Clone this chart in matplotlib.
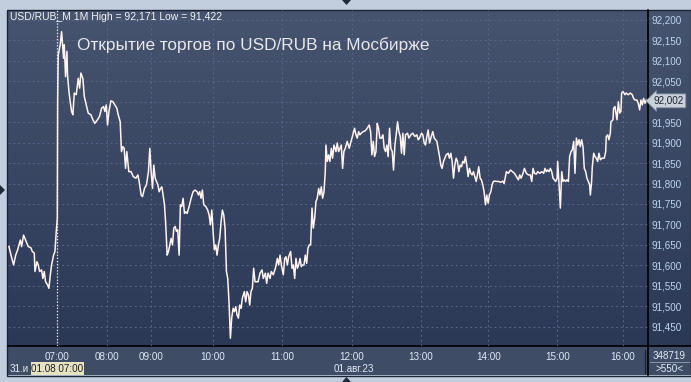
import numpy as np
import matplotlib.pyplot as plt
from matplotlib.patches import Rectangle, Polygon
from matplotlib.colors import LinearSegmentedColormap

plt.rcParams['font.family'] = ['Liberation Sans', 'DejaVu Sans']

# 1-minute bars: bar number on the chart and price
bars = [
    0.8, 2.6, 4.8, 6.6, 8.3, 10.6, 11.7, 13.4, 15.7, 17.4, 19.7, 20.9, 22.6, 23.2,
    24.9, 26.0, 27.2, 28.9, 30.0, 31.2, 32.3, 34.1, 35.2, 36.4, 37.5, 39.2, 40.4, 41.5,
    42.4, 42.7, 43.2, 44.9, 46.1, 47.8, 48.4, 49.5, 50.7, 51.2, 52.4, 53.5, 54.7, 55.8,
    57.0, 58.7, 60.4, 61.6, 62.7, 64.4, 65.6, 67.3, 69.0, 71.3, 73.0, 74.7, 77.0, 78.7,
    80.5, 82.2, 83.3, 84.5, 85.6, 86.8, 88.5, 90.2, 91.9, 93.6, 94.8, 96.5, 97.6, 98.8,
    99.9, 101.1, 102.2, 103.9,
    105.9, 107.7, 110.0, 111.7, 112.8, 114.5, 115.7, 117.4, 119.1, 120.8,
    122.0, 123.1, 124.3, 125.4, 126.6, 127.7, 128.9, 130.0, 131.2, 132.3,
    133.4, 134.6, 135.7, 136.9, 138.0, 139.2, 140.3, 141.5, 142.6, 143.8,
    144.9, 146.0, 147.2, 148.3, 149.5, 150.6, 151.8, 152.9, 154.1, 155.8,
    157.5, 159.2, 160.9, 162.7, 163.8, 164.9, 166.1, 167.2, 168.4, 170.1,
    171.8, 173.0, 174.1, 175.3, 176.4, 177.5, 178.7, 179.8, 181.0, 182.1,
    183.3, 184.4, 185.6, 186.7, 187.9, 189.0, 190.1, 191.3, 192.4, 193.6,
    194.7, 195.9, 197.0, 198.2, 199.3, 200.5, 201.6, 203.3, 204.5, 205.6,
    206.8, 207.9, 209.0, 210.2, 211.3, 212.5, 213.6,
    215.1, 216.8, 218.5, 219.6, 221.4, 222.5, 223.7, 225.4, 226.5, 228.2,
    230.0, 231.7, 232.8, 234.0, 235.1, 236.8, 238.0, 239.1, 240.3, 241.4,
    243.1, 244.3, 245.4, 246.6, 247.7, 248.9, 250.0, 251.2, 252.3, 253.4,
    254.6, 255.7, 256.9, 258.0, 259.2, 260.3, 261.5, 262.6, 263.8, 264.9,
    266.0, 267.2, 268.3, 269.5, 270.6, 271.8, 272.9, 273.5, 274.6, 275.8,
    276.9, 278.1, 279.2, 280.4, 282.1, 283.2, 284.4, 285.5, 286.7, 287.8,
    288.9, 290.1, 291.8, 293.5, 294.7, 295.8, 297.0, 298.1, 299.3, 300.4,
    301.6, 302.7, 303.8, 305.6, 307.3, 309.0, 310.7, 311.9, 313.0, 314.2,
    315.3, 316.5, 317.6, 318.7, 319.9,
    321.3, 322.5, 323.6, 324.8, 325.9, 327.0, 328.2, 329.3, 330.5, 331.6,
    332.8, 333.9, 335.1, 336.2, 337.4, 338.5, 339.6, 340.8, 341.9, 343.7,
    344.8, 346.5, 348.2, 349.9, 351.7, 352.8, 354.0, 355.7, 356.8, 358.0,
    359.1, 360.3, 361.4, 362.6, 363.7, 365.4, 366.6, 367.7, 368.9, 370.0,
    371.2, 372.3, 373.4, 374.6, 375.7, 376.9, 378.6, 379.7, 380.9, 382.0,
    383.2, 384.3, 385.5, 386.6, 387.8, 388.9, 390.1, 391.2, 392.3, 393.5,
    394.6, 395.8, 396.9, 398.1, 399.2, 400.4, 401.5, 402.7, 403.8, 404.9,
    406.1, 407.2, 408.4, 409.5, 410.7, 411.8, 413.0, 414.1, 415.3, 416.4,
    417.5, 418.7, 420.4, 422.1, 423.9, 425.6, 426.7,
    428.7, 430.4, 432.2, 433.9, 435.6, 437.3, 439.0, 440.2, 441.3, 443.0,
    444.2, 445.9, 447.6, 449.3, 450.5, 451.6, 452.8, 454.5, 455.6, 457.4,
    459.1, 460.8, 461.9, 463.1, 464.2, 465.4, 466.5, 467.7, 468.8, 470.0,
    471.1, 472.3, 472.8, 474.0, 475.1, 476.3, 477.4, 478.6, 479.7, 480.8,
    482.0, 483.1, 484.3, 485.4, 486.6, 487.7, 488.9, 490.0, 491.2, 492.3,
    493.4, 494.6, 495.7, 496.9, 498.0, 499.2, 500.3, 500.9, 502.0, 502.6,
    503.8, 504.9, 506.0, 507.2, 508.3, 509.5, 511.2, 512.9, 514.1, 514.6,
    515.8, 516.9, 518.1, 518.6, 520.4, 520.9, 522.1, 523.2, 523.8, 525.0,
    526.1, 527.2, 527.8, 529.0, 530.7, 531.8, 533.5, 535.3, 537.0, 538.1,
    539.3, 541.0, 542.1, 543.3, 544.4, 545.6, 546.7, 547.9, 549.0, 549.6,
]
prices = [
    91.646, 91.625, 91.601, 91.625, 91.638, 91.662, 91.646, 91.674, 91.658, 91.646, 91.643, 91.634, 91.630, 91.585,
    91.609, 91.601, 91.585, 91.589, 91.568, 91.585, 91.560, 91.552, 91.544, 91.577, 91.601, 91.625, 91.634, 91.683,
    91.715, 92.000, 92.114, 92.139, 92.171, 92.106, 92.139, 92.061, 92.123, 92.066, 92.025, 92.000, 91.976, 91.968,
    92.021, 92.017, 92.057, 92.033, 92.070, 92.057, 92.013, 91.992, 91.972, 91.968, 91.956, 91.947, 91.956, 91.964,
    91.984, 91.988, 91.976, 91.992, 91.943, 91.976, 92.002, 92.000, 91.992, 91.984, 91.968, 91.951, 91.878, 91.890,
    91.886, 91.837, 91.878, 91.829,
    91.829, 91.817, 91.813, 91.821, 91.805, 91.772, 91.768, 91.788, 91.797, 91.829,
    91.886, 91.829, 91.788, 91.845, 91.813, 91.805, 91.797, 91.780, 91.788, 91.792,
    91.772, 91.748, 91.699, 91.625, 91.634, 91.650, 91.666, 91.650, 91.691, 91.695,
    91.683, 91.687, 91.625, 91.748, 91.744, 91.764, 91.727, 91.731, 91.727, 91.744,
    91.764, 91.780, 91.784, 91.780, 91.772, 91.780, 91.764, 91.784, 91.748, 91.744,
    91.735, 91.723, 91.699, 91.735, 91.683, 91.638, 91.650, 91.625, 91.650, 91.666,
    91.707, 91.735, 91.723, 91.691, 91.585, 91.568, 91.511, 91.422, 91.471, 91.495,
    91.487, 91.499, 91.479, 91.471, 91.503, 91.495, 91.520, 91.536, 91.511, 91.536,
    91.528, 91.503, 91.536, 91.544, 91.593, 91.560, 91.560,
    91.560, 91.581, 91.589, 91.568, 91.581, 91.556, 91.581, 91.568, 91.585, 91.577,
    91.593, 91.617, 91.601, 91.625, 91.601, 91.577, 91.617, 91.621, 91.601, 91.621,
    91.634, 91.593, 91.601, 91.568, 91.617, 91.593, 91.601, 91.617, 91.597, 91.601,
    91.601, 91.625, 91.605, 91.642, 91.650, 91.650, 91.740, 91.691, 91.715, 91.756,
    91.764, 91.788, 91.772, 91.792, 91.764, 91.780, 91.829, 91.894, 91.854, 91.870,
    91.854, 91.886, 91.862, 91.894, 91.878, 91.899, 91.878, 91.886, 91.894, 91.837,
    91.878, 91.886, 91.903, 91.886, 91.899, 91.911, 91.923, 91.935, 91.919, 91.911,
    91.927, 91.919, 91.923, 91.927, 91.929, 91.935, 91.943, 91.927, 91.870, 91.903,
    91.866, 91.878, 91.947, 91.935, 91.911,
    91.911, 91.919, 91.886, 91.878, 91.894, 91.866, 91.935, 91.886, 91.878, 91.833,
    91.894, 91.919, 91.951, 91.927, 91.915, 91.874, 91.923, 91.870, 91.919, 91.923,
    91.911, 91.919, 91.923, 91.915, 91.919, 91.907, 91.911, 91.923, 91.919, 91.899,
    91.894, 91.915, 91.931, 91.899, 91.911, 91.927, 91.911, 91.907, 91.903, 91.886,
    91.866, 91.845, 91.837, 91.854, 91.862, 91.870, 91.874, 91.862, 91.874, 91.854,
    91.813, 91.845, 91.862, 91.854, 91.829, 91.845, 91.841, 91.854, 91.850, 91.866,
    91.845, 91.817, 91.837, 91.825, 91.821, 91.829, 91.817, 91.805, 91.821, 91.841,
    91.813, 91.809, 91.797, 91.780, 91.748, 91.772, 91.752, 91.772, 91.780, 91.797,
    91.805, 91.806, 91.805, 91.805, 91.803, 91.806, 91.800,
    91.829, 91.825, 91.833, 91.829, 91.825, 91.817, 91.809, 91.821, 91.813, 91.825,
    91.837, 91.825, 91.821, 91.821, 91.805, 91.837, 91.825, 91.823, 91.829, 91.825,
    91.829, 91.825, 91.837, 91.829, 91.833, 91.829, 91.837, 91.829, 91.813, 91.809,
    91.805, 91.813, 91.854, 91.797, 91.740, 91.829, 91.805, 91.809, 91.805, 91.809,
    91.805, 91.866, 91.878, 91.882, 91.903, 91.825, 91.911, 91.894, 91.907, 91.890,
    91.907, 91.890, 91.837, 91.829, 91.813, 91.805, 91.797, 91.772, 91.805, 91.841,
    91.874, 91.866, 91.862, 91.854, 91.874, 91.858, 91.862, 91.862, 91.878, 91.915,
    91.919, 91.907, 91.923, 91.951, 91.956, 91.984, 91.988, 91.968, 91.956, 92.000,
    91.972, 91.976, 92.021, 92.025, 92.017, 92.021, 92.017, 92.021, 92.017, 92.008,
    92.004, 92.004, 91.996, 91.980, 92.004, 91.992, 92.008, 91.996, 92.004, 92.002,
]

tick_bars = [42.4, 85, 123, 176, 236, 296, 355, 413, 472.5, 529]
tick_labels = ['07:00', '08:00', '09:00', '10:00', '11:00', '12:00',
               '13:00', '14:00', '15:00', '16:00']
price_ticks = [91.45, 91.50, 91.55, 91.60, 91.65, 91.70, 91.75, 91.80, 91.85,
               91.90, 91.95, 92.00, 92.05, 92.10, 92.15, 92.20]
last_price = 92.002
high, low = 92.171, 91.422
volume = '348719'
n_bars = '>550<'


def rub(v):
    return f'{v:.3f}'.replace('.', ',')


W, H = 691, 382
fig = plt.figure(figsize=(W / 100, H / 100), dpi=100)
fig.patch.set_facecolor('#c2cddd')


def px_rect(x0, y0, x1, y1):
    return [x0 / W, 1 - y1 / H, (x1 - x0) / W, (y1 - y0) / H]


# background: gradient panel + bottom strip (pixel coordinates)
bg = fig.add_axes([0, 0, 1, 1], zorder=0)
bg.set_axis_off()
grad = LinearSegmentedColormap.from_list('g', ['#46546f', '#2b3856'])
bg.imshow(np.linspace(0, 1, 200).reshape(-1, 1), cmap=grad, aspect='auto',
          extent=(8, 691, 346, 10), origin='upper')
bg.add_patch(Rectangle((8, 346), 683, 29, fc='#3e4c66', ec='none'))
bg.add_patch(Rectangle((7.5, 9.5), 684, 366, fc='none', ec='#1c2536', lw=1))
bg.plot([8, 691], [346, 346], color='black', lw=1.2)
bg.plot([648, 648], [10, 375], color='black', lw=1.2)
bg.set_xlim(0, W)
bg.set_ylim(H, 0)

# price chart
ax = fig.add_axes(px_rect(8, 10, 648, 346), zorder=1)
ax.set_facecolor('none')
for s in ax.spines.values():
    s.set_visible(False)
ax.plot(bars, prices, color='#fff3ef', lw=1.1)
ax.axvline(tick_bars[0], color='#f2f2f2', lw=0.9, ls=(0, (1, 1.5)))
ax.set_xlim(0, 550.5)
ax.set_ylim(91.403, 92.224)

ax.set_xticks(tick_bars, tick_labels)
ax.yaxis.tick_right()
ax.set_yticks(price_ticks, [rub(v) if abs(v - 92.0) > 1e-6 else '' for v in price_ticks])
ax.tick_params(axis='x', length=0, pad=4.5, labelsize=7.1, labelcolor='#e2eaf4')
ax.tick_params(axis='y', length=0, pad=2.5, labelsize=7.1, labelcolor='#bcd5f0')
ax.grid(True, color='#56668a', ls=(0, (2, 3)), lw=0.7)

ax.annotate(rub(last_price), xy=(1.0, last_price), xycoords=('axes fraction', 'data'),
            xytext=(4, 0), textcoords='offset points', va='center', ha='left',
            fontsize=7.1, color='#1c2430', annotation_clip=False,
            bbox=dict(boxstyle='larrow,pad=0.2', fc='#c9d1da', ec='#7d8896', lw=0.6))

# texts and frame details (pixel coordinates)
ov = fig.add_axes([0, 0, 1, 1], zorder=2)
ov.set_axis_off()
ov.set_xlim(0, W)
ov.set_ylim(H, 0)

ov.text(10, 17, f'USD/RUB_M 1M High = {rub(high)} Low = {rub(low)}',
        fontsize=7.5, color='#f4f4f4', va='center', ha='left')
ov.text(77, 45, 'Открытие торгов по USD/RUB на Мосбирже',
        fontsize=12.4, color='#e8e8ea', va='center', ha='left')

ov.text(10, 369, '31.и', fontsize=7.1, color='#e2eaf4', va='center', ha='left')
ov.add_patch(Rectangle((31, 362), 53, 13, fc='#e6e2c4', ec='none'))
ov.text(57.5, 369, '01.08 07:00', fontsize=7.1, color='#1e1e1e', va='center', ha='center')
ov.text(334, 369, '01.авг.23', fontsize=7.1, color='#e2eaf4', va='center', ha='left')

ov.text(669.5, 356, volume, fontsize=7.1, color='#e2eaf4', va='center', ha='center')
ov.text(669.5, 369, n_bars, fontsize=7.1, color='#e2eaf4', va='center', ha='center')
ov.plot([650, 689], [362, 362], color='#8a96a8', lw=0.7)
ov.plot([645, 645], [350, 373], color='#1c2434', lw=0.9)

tri = '#1e2a3c'
ov.add_patch(Polygon([(342, 0), (351, 0), (346.5, 5)], closed=True, fc=tri, ec='none'))
ov.add_patch(Polygon([(0, 185), (0, 195), (5, 190)], closed=True, fc=tri, ec='none'))
ov.add_patch(Polygon([(342, 382), (351, 382), (346.5, 377)], closed=True, fc=tri, ec='none'))

fig.savefig('out.png', dpi=100, facecolor=fig.get_facecolor())
